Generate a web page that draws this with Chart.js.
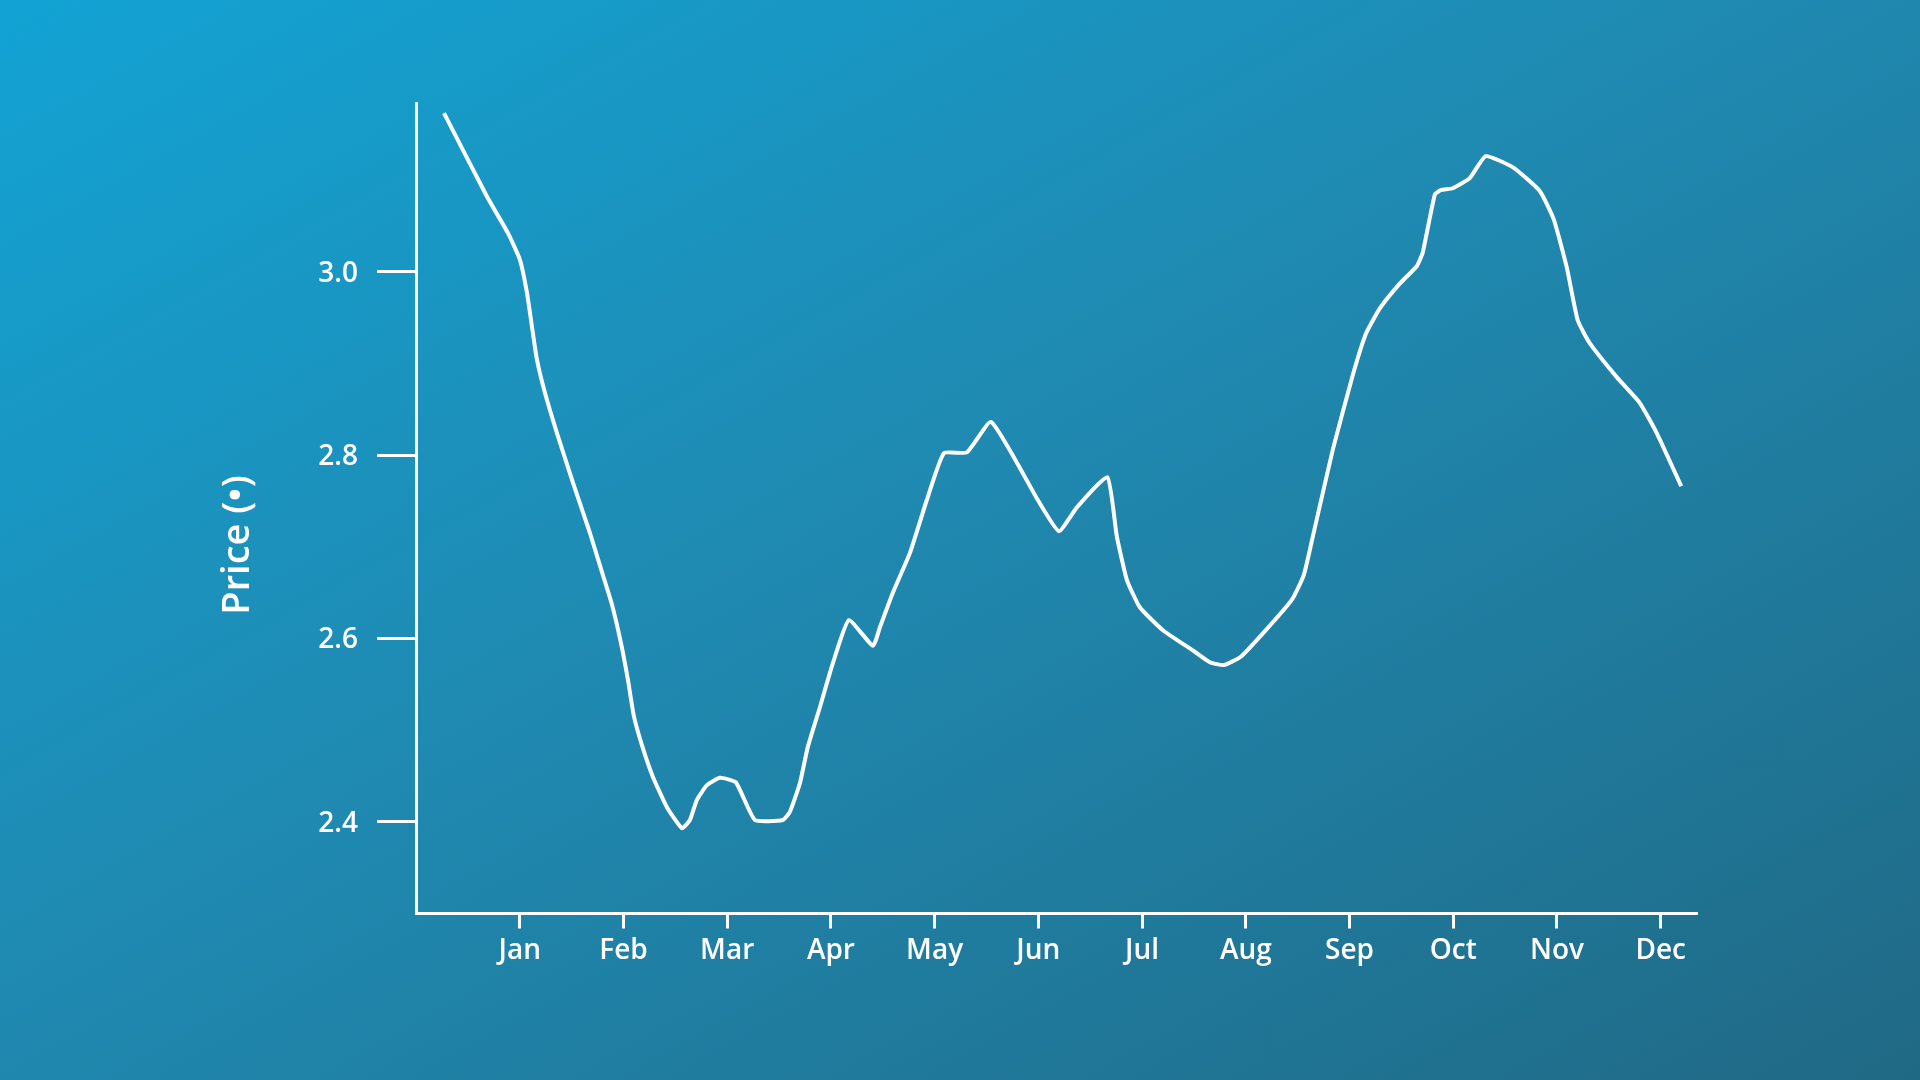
<!DOCTYPE html>
<html>
<head>
<meta charset="utf-8">
<title>Price</title>
<script src="https://cdn.jsdelivr.net/npm/chart.js@4.4.1/dist/chart.umd.min.js"></script>
<style>
  html, body { margin: 0; padding: 0; }
  body {
    width: 1920px;
    height: 1080px;
    overflow: hidden;
    background: linear-gradient(to bottom right, #12a3d4 0%, #1f8ab2 45%, #206985 100%);
  }
  canvas { display: block; }
</style>
</head>
<body>
<canvas id="priceChart" width="1920" height="1080"></canvas>
<script>
const months = ['Jan', 'Feb', 'Mar', 'Apr', 'May', 'Jun', 'Jul', 'Aug', 'Sep', 'Oct', 'Nov', 'Dec']
const monthTicks = [1, 2, 3, 4, 5, 6, 7, 8, 9, 10, 11, 12]
const priceTicks = [2.4, 2.6, 2.8, 3.0]
const yTitle = 'Price (•)'

// position along the year in months (Jan tick = 1)
const time = [
    0.27, 0.684, 0.887, 1.002, 1.07, 1.118, 1.166, 1.243, 1.359, 1.513,
    1.677, 1.802, 1.889, 1.976, 2.043, 2.101, 2.188, 2.284, 2.419, 2.564,
    2.641, 2.708, 2.805, 2.93, 3.084, 3.267, 3.537, 3.605, 3.701, 3.778,
    3.894, 4.019, 4.173, 4.405, 4.472, 4.598, 4.761, 4.925, 5.089, 5.311,
    5.547, 5.995, 6.198, 6.371, 6.665, 6.757, 6.853, 6.978, 7.2, 7.489,
    7.653, 7.788, 7.952, 8.193, 8.443, 8.559, 8.646, 8.839, 9.031, 9.157,
    9.292, 9.484, 9.648, 9.706, 9.822, 9.88, 9.995, 10.159, 10.313, 10.573,
    10.834, 10.969, 11.094, 11.2, 11.316, 11.576, 11.798, 11.962, 12.198
]
const price = [
    3.173, 3.082, 3.042, 3.013, 2.977, 2.94, 2.904, 2.868, 2.824, 2.77,
    2.715, 2.669, 2.637, 2.595, 2.555, 2.515, 2.48, 2.449, 2.416, 2.393,
    2.402, 2.424, 2.44, 2.448, 2.443, 2.402, 2.402, 2.411, 2.442, 2.482,
    2.525, 2.573, 2.62, 2.592, 2.612, 2.65, 2.693, 2.751, 2.802, 2.803,
    2.836, 2.751, 2.717, 2.743, 2.776, 2.711, 2.664, 2.634, 2.609, 2.587,
    2.574, 2.571, 2.58, 2.609, 2.642, 2.669, 2.711, 2.806, 2.887, 2.932,
    2.96, 2.987, 3.006, 3.021, 3.084, 3.089, 3.091, 3.102, 3.126, 3.114,
    3.088, 3.057, 3.005, 2.947, 2.922, 2.885, 2.857, 2.824, 2.766
]

const points = time.map((t, i) => ({ x: t, y: price[i] }))

const fontFamily = '"Open Sans", "Noto Sans", sans-serif'

const yTitlePlugin = {
    id: 'yTitle',
    afterDraw(chart) {
        const c = chart.ctx
        c.save()
        c.translate(238, 545)
        c.rotate(-Math.PI / 2)
        c.fillStyle = '#ffffff'
        c.font = '600 38px ' + fontFamily
        c.textAlign = 'center'
        c.textBaseline = 'middle'
        c.fillText(yTitle, 0, 0)
        c.restore()
    }
}

const ctx = document.getElementById('priceChart').getContext('2d')
const myChart = new Chart(ctx, {
    type: 'line',
    data: {
        datasets: [{
            label: 'Price',
            data: points,
            borderColor: '#ffffff',
            borderWidth: 4,
            borderJoinStyle: 'round',
            fill: false,
            pointRadius: 0,
            tension: 0.15
        }]
    },
    options: {
        responsive: false,
        animation: false,
        layout: {
            padding: { top: 103, right: 223, left: 0, bottom: 0 }
        },
        plugins: {
            legend: { display: false },
            tooltip: { enabled: false }
        },
        scales: {
            x: {
                type: 'linear',
                min: 0,
                max: 12.35,
                afterBuildTicks: (axis) => {
                    axis.ticks = monthTicks.map(v => ({ value: v }))
                },
                afterFit: (axis) => {
                    axis.height = 166.5
                },
                border: { display: true, color: '#ffffff', width: 3 },
                grid: {
                    drawOnChartArea: false,
                    drawTicks: true,
                    tickLength: 15,
                    tickColor: '#ffffff',
                    tickWidth: 3
                },
                ticks: {
                    color: '#ffffff',
                    padding: 6,
                    maxRotation: 0,
                    autoSkip: false,
                    font: { family: fontFamily, size: 28, weight: '600' },
                    callback: (value) => months[value - 1]
                }
            },
            y: {
                type: 'linear',
                min: 2.3,
                max: 3.184,
                afterBuildTicks: (axis) => {
                    axis.ticks = priceTicks.map(v => ({ value: v }))
                },
                afterFit: (axis) => {
                    axis.width = 416
                },
                border: { display: true, color: '#ffffff', width: 3 },
                grid: {
                    drawOnChartArea: false,
                    drawTicks: true,
                    tickLength: 39,
                    tickColor: '#ffffff',
                    tickWidth: 3
                },
                ticks: {
                    color: '#ffffff',
                    padding: 19,
                    labelOffset: 2,
                    font: { family: fontFamily, size: 28, weight: '600' },
                    callback: (value) => value.toFixed(1)
                }
            }
        }
    },
    plugins: [yTitlePlugin]
})
</script>
</body>
</html>
